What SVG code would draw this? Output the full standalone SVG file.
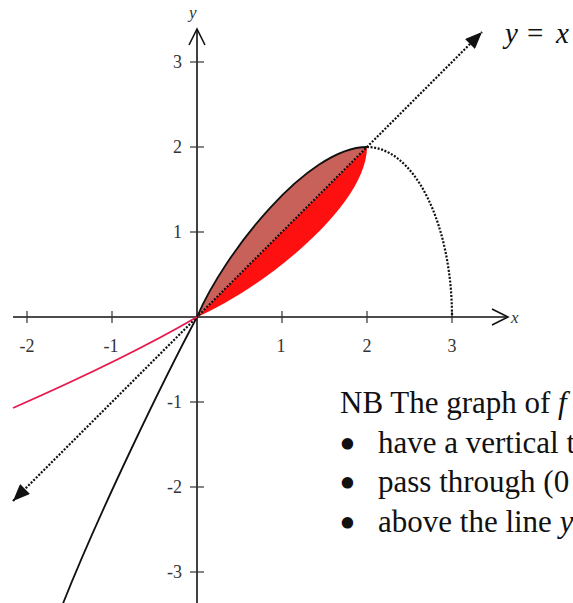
<svg xmlns="http://www.w3.org/2000/svg" width="573" height="603" viewBox="0 0 573 603">
<defs>
<style>
.axis{stroke:#111;stroke-width:1.6;fill:none}
.tick{stroke:#333;stroke-width:1.2}
.tl{font-family:"Liberation Serif","Times New Roman",serif;font-size:18px;fill:#333}
.al{font-family:"Liberation Serif","Times New Roman",serif;font-size:17px;font-style:italic;fill:#333}
.dot{stroke:#111;stroke-width:2.2;stroke-dasharray:2 1.6;fill:none}
.curve{stroke:#111;stroke-width:1.8;fill:none}
.big{font-family:"Liberation Serif","Times New Roman",serif;font-size:31px;fill:#111}
.bul{font-family:"Liberation Serif","Times New Roman",serif;font-size:31px;fill:#111;stroke:#111;stroke-width:4;stroke-linejoin:round}
</style>
<marker id="tri" markerUnits="userSpaceOnUse" markerWidth="18" markerHeight="14" refX="17" refY="7" orient="auto-start-reverse">
<path d="M0,0 L17,7 L0,14 z" fill="#111"/>
</marker>
</defs>
<rect width="573" height="603" fill="#fff"/>

<g id="lens">
<path d="M197,317 C224.2,253.25 307.5,147 367,147 L197,317 Z" fill="#c8615a"/>
<path d="M197,317 L367,147 C367,206.5 260.75,289.8 197,317 Z" fill="#ff1010"/>
</g>

<g id="axes">
<line class="axis" x1="13" y1="317" x2="507" y2="317"/>
<polyline class="axis" points="492,309 508,317 492,325"/>
<line class="axis" x1="197" y1="603" x2="197" y2="30"/>
<polyline class="axis" points="189,45 197,29 205,45"/>
<g class="tick">
<line x1="27" y1="311" x2="27" y2="323"/>
<line x1="112" y1="311" x2="112" y2="323"/>
<line x1="282" y1="311" x2="282" y2="323"/>
<line x1="367" y1="311" x2="367" y2="323"/>
<line x1="452" y1="311" x2="452" y2="323"/>
<line x1="190" y1="62" x2="204" y2="62"/>
<line x1="190" y1="147" x2="204" y2="147"/>
<line x1="190" y1="232" x2="204" y2="232"/>
<line x1="190" y1="402" x2="204" y2="402"/>
<line x1="190" y1="487" x2="204" y2="487"/>
<line x1="190" y1="572" x2="204" y2="572"/>
</g>
<g class="tl" text-anchor="middle">
<text x="27" y="352">-2</text>
<text x="111" y="352">-1</text>
<text x="281" y="352">1</text>
<text x="367" y="352">2</text>
<text x="452" y="352">3</text>
</g>
<g class="tl" text-anchor="end">
<text x="182" y="68">3</text>
<text x="182" y="153">2</text>
<text x="182" y="238">1</text>
<text x="182" y="408">-1</text>
<text x="182" y="493">-2</text>
<text x="182" y="578">-3</text>
</g>
<text class="al" x="511" y="323">x</text>
<text class="al" x="189" y="18">y</text>
</g>

<g id="connectors">
<line class="dot" x1="13" y1="501" x2="482" y2="32" marker-start="url(#tri)" marker-end="url(#tri)"/>
<path class="dot" d="M367,147 A85,170 0 0 1 452,317"/>
</g>

<g id="curves">
<path class="curve" d="M197,317 C224.2,253.25 307.5,147 367,147"/>
<path class="curve" d="M197,317 C165,377 100,510 62,606"/>
<path d="M197,317 C137,352 73,381.6 13,408" stroke="#e8194c" stroke-width="1.8" fill="none"/>
</g>

<g id="label-yx">
<text x="505" y="43" font-family="'Liberation Serif','Times New Roman',serif" font-size="29" fill="#111"><tspan font-style="italic">y</tspan><tspan x="527">=</tspan><tspan x="556" font-style="italic">x</tspan></text>
</g>

<g id="note">
<text class="big" x="340" y="413">NB The graph of <tspan font-style="italic">f</tspan></text>
<text class="bul" x="342" y="454.5">•</text>
<text class="big" x="378" y="452.5">have a vertical t</text>
<text class="bul" x="342" y="493.5">•</text>
<text class="big" x="378" y="492">pass through (0</text>
<text class="bul" x="342" y="533.5">•</text>
<text class="big" x="378" y="531.5">above the line <tspan font-style="italic">y</tspan></text>
</g>
</svg>
